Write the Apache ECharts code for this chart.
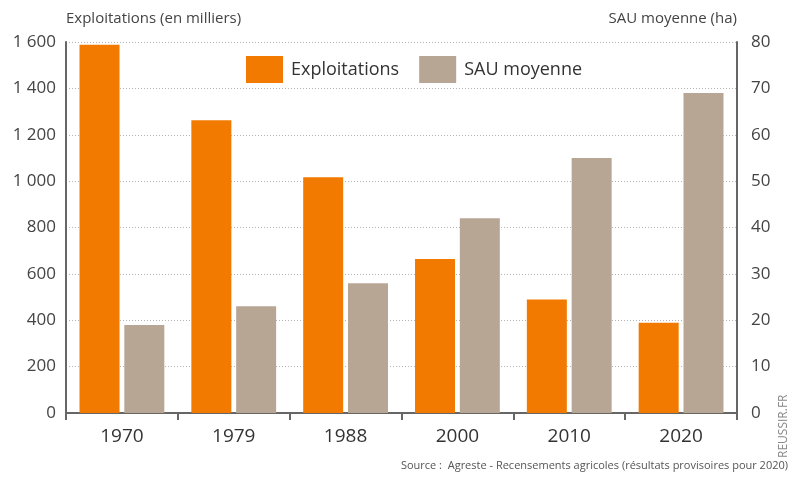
<!DOCTYPE html>
<html><head><meta charset="utf-8">
<script src="https://cdn.jsdelivr.net/npm/echarts@6/dist/echarts.min.js"></script>
<style>html,body{margin:0;padding:0;background:#fff}#c{width:796px;height:478px}</style>
</head><body><div id="c"></div>
<script>
const years = ['1970','1979','1988','2000','2010','2020'];
const exploitations = [1588, 1263, 1017, 664, 490, 389];
const sauMoyenne = [19, 23, 28, 42, 55, 69];
const leftTicks = [0,200,400,600,800,1000,1200,1400,1600];
const rightTicks = [0,10,20,30,40,50,60,70,80];

const font = 'Open Sans';
const chart = echarts.init(document.getElementById('c'));
chart.setOption({
  animation:false,
  textStyle:{fontFamily:font},
  grid:{left:66,right:59,top:42,bottom:65},
  legend:{
    top:51,left:241,itemWidth:37,itemHeight:27,itemGap:20,icon:'rect',
    textStyle:{fontSize:18,color:'#333',fontFamily:font,padding:[0,0,0,3]},
    data:['Exploitations','SAU moyenne']
  },
  xAxis:{
    type:'category',data:years,
    axisLine:{lineStyle:{color:'#666',width:2}},
    axisTick:{show:true,length:7,lineStyle:{color:'#666',width:2}},
    axisLabel:{fontSize:19,color:'#333',margin:14}
  },
  yAxis:[{
    type:'value',min:0,max:1600,interval:200,
    name:'Exploitations (en milliers)',nameLocation:'end',nameGap:16,
    nameTextStyle:{align:'left',fontSize:15,color:'#444'},
    axisLine:{show:true,lineStyle:{color:'#666',width:2}},
    axisTick:{show:false},
    axisLabel:{fontSize:17,color:'#444',margin:10,
      formatter:v=>v>=1000?String(v).replace(/(\d)(\d{3})$/,'$1 $2'):String(v)},
    splitLine:{show:true,lineStyle:{color:'#b4b4b4',type:[1,2],width:1}}
  },{
    type:'value',min:0,max:80,interval:10,position:'right',
    name:'SAU moyenne (ha)',nameLocation:'end',nameGap:16,
    nameTextStyle:{align:'right',fontSize:15,color:'#444'},
    axisLine:{show:true,lineStyle:{color:'#666',width:2}},
    axisTick:{show:false},
    axisLabel:{fontSize:17,color:'#444',margin:14},
    splitLine:{show:false}
  }],
  series:[{
    name:'Exploitations',type:'bar',yAxisIndex:0,data:exploitations,
    barWidth:40,barGap:'12%',itemStyle:{color:'#F27A00'}
  },{
    name:'SAU moyenne',type:'bar',yAxisIndex:1,data:sauMoyenne,
    barWidth:40,itemStyle:{color:'#B8A695'}
  }],
  graphic:[{
    type:'text',right:8,top:460,
    style:{text:'Source :  Agreste - Recensements agricoles (résultats provisoires pour 2020)',fontSize:11,fill:'#555',fontFamily:font}
  },{
    type:'text',x:778,y:458,rotation:Math.PI/2,
    style:{text:'REUSSIR.FR',fontSize:12,fill:'#888',fontFamily:font}
  }]
});
</script></body></html>
